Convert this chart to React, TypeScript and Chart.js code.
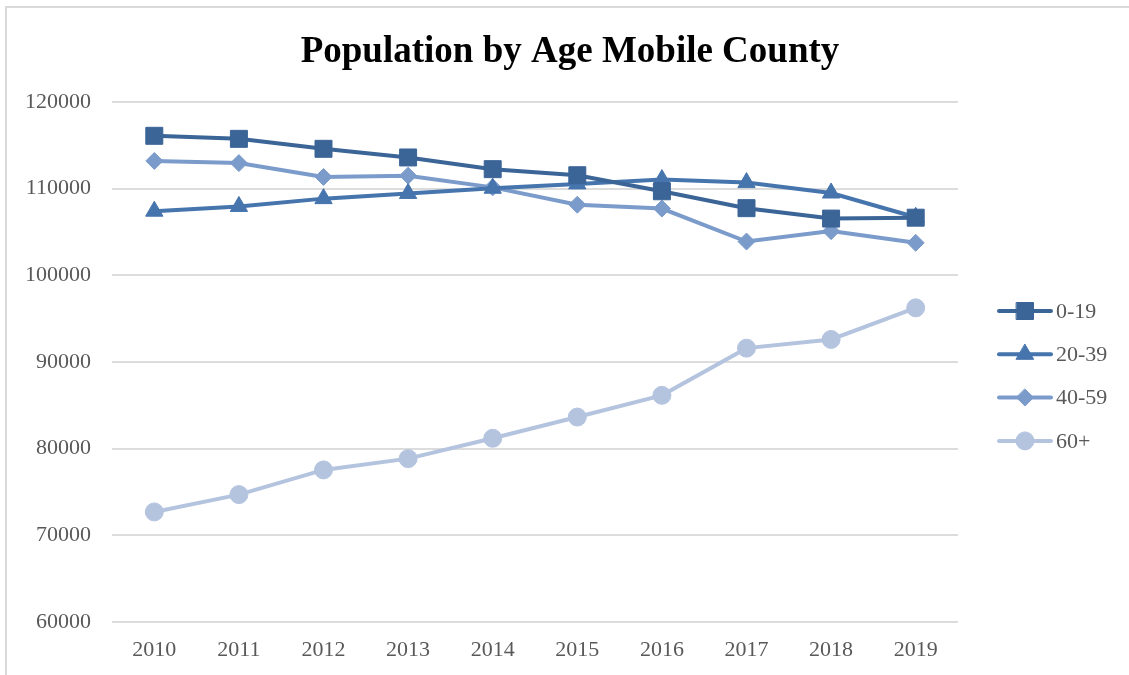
import React, { useEffect, useRef } from "react";
import { Chart, registerables } from "chart.js";

Chart.register(...registerables);

const years = ["2010", "2011", "2012", "2013", "2014", "2015", "2016", "2017", "2018", "2019"];
const age0to19 = [116100, 115750, 114600, 113600, 112250, 111550, 109700, 107750, 106550, 106650];
const age20to39 = [107400, 107950, 108850, 109450, 110050, 110550, 111050, 110700, 109500, 106700];
const age40to59 = [113200, 112950, 111350, 111500, 110150, 108150, 107700, 103900, 105100, 103750];
const age60plus = [72700, 74700, 77550, 78850, 81200, 83650, 86150, 91600, 92600, 96250];
const seriesNames = ["0-19", "20-39", "40-59", "60+"];
const titleText = "Population by Age Mobile County";
const yTicks = { min: 60000, max: 120000, step: 10000 };

const FONT = "'Liberation Serif', 'Times New Roman', serif";
const colors = ["#3b6497", "#4674ad", "#7b9bcb", "#b4c4df"];
const styles = ["rect", "triangle", "rectRot", "circle"];
const radii = [12, 10, 8.5, 9];

function drawMarker(ctx: CanvasRenderingContext2D, style: string, r: number, x: number, y: number) {
  ctx.beginPath();
  if (style === "rect") {
    const s = Math.SQRT1_2 * r;
    ctx.rect(x - s, y - s, 2 * s, 2 * s);
  } else if (style === "triangle") {
    let rad = 0;
    ctx.moveTo(x + Math.sin(rad) * r, y - Math.cos(rad) * r);
    rad += (2 * Math.PI) / 3;
    ctx.lineTo(x + Math.sin(rad) * r, y - Math.cos(rad) * r);
    rad += (2 * Math.PI) / 3;
    ctx.lineTo(x + Math.sin(rad) * r, y - Math.cos(rad) * r);
    ctx.closePath();
  } else if (style === "rectRot") {
    ctx.moveTo(x, y - r);
    ctx.lineTo(x + r, y);
    ctx.lineTo(x, y + r);
    ctx.lineTo(x - r, y);
    ctx.closePath();
  } else {
    ctx.arc(x, y, r, 0, Math.PI * 2);
  }
  ctx.fill();
  ctx.stroke();
}

const titleLegendPlugin = {
  id: "titleLegend",
  afterDraw(chart: any) {
    const ctx = chart.ctx;
    ctx.save();
    ctx.fillStyle = "#000000";
    ctx.font = `bold 37px ${FONT}`;
    ctx.textAlign = "center";
    ctx.textBaseline = "alphabetic";
    ctx.fillText(titleText, 570, 62);

    const ds = chart.data.datasets;
    const startY = 311;
    const gap = 43.3;
    ds.forEach((d: any, i: number) => {
      const y = startY + i * gap;
      ctx.strokeStyle = d.borderColor;
      ctx.lineWidth = 4;
      ctx.lineCap = "round";
      ctx.beginPath();
      ctx.moveTo(999, y);
      ctx.lineTo(1051, y);
      ctx.stroke();
      ctx.fillStyle = d.borderColor;
      ctx.lineWidth = 1;
      drawMarker(ctx, d.pointStyle, d.pointRadius, 1025, y);
      ctx.fillStyle = "#595959";
      ctx.font = `22px ${FONT}`;
      ctx.textAlign = "left";
      ctx.textBaseline = "middle";
      ctx.fillText(d.label, 1056, y + 1);
    });
    ctx.restore();
  },
};

export default function App() {
  const ref = useRef<HTMLCanvasElement | null>(null);

  useEffect(() => {
    if (!ref.current) return;
    const data = [age0to19, age20to39, age40to59, age60plus];
    const chart = new Chart(ref.current, {
      type: "line",
      data: {
        labels: years,
        datasets: data.map((vals, i) => ({
          label: seriesNames[i],
          data: vals,
          borderColor: colors[i],
          backgroundColor: colors[i],
          pointBackgroundColor: colors[i],
          pointBorderColor: colors[i],
          borderWidth: 4,
          pointStyle: styles[i] as any,
          pointRadius: radii[i],
          pointBorderWidth: 1,
          tension: 0,
          fill: false,
        })),
      },
      options: {
        animation: false,
        responsive: false,
        maintainAspectRatio: false,
        layout: { padding: { top: 102, right: 171, bottom: 0, left: 0 } },
        plugins: {
          legend: { display: false },
          tooltip: { enabled: false },
          title: { display: false },
        },
        scales: {
          x: {
            offset: true,
            afterFit: (scale: any) => {
              scale.height = 53;
            },
            grid: { display: false, drawTicks: false },
            border: { display: false },
            ticks: {
              color: "#595959",
              font: { family: FONT, size: 22 },
              padding: 15,
              maxRotation: 0,
            },
          },
          y: {
            min: yTicks.min,
            max: yTicks.max,
            afterFit: (scale: any) => {
              scale.width = 112;
            },
            grid: { color: "#dcdcdc", lineWidth: 2, drawTicks: false },
            border: { display: false },
            ticks: {
              stepSize: yTicks.step,
              color: "#595959",
              font: { family: FONT, size: 22 },
              padding: 21,
              callback: (v: any) => String(v),
            },
          },
        },
      },
      plugins: [titleLegendPlugin],
    });
    return () => chart.destroy();
  }, []);

  return (
    <div style={{ position: "absolute", left: 0, top: 0, width: 1129, height: 675, overflow: "hidden", background: "#fff" }}>
      <div
        style={{
          position: "absolute",
          left: 5,
          top: 6,
          width: 1200,
          height: 700,
          borderLeft: "2px solid #d9d9d9",
          borderTop: "2px solid #d9d9d9",
        }}
      />
      <canvas ref={ref} width={1129} height={675} style={{ position: "absolute", left: 0, top: 0, width: 1129, height: 675 }} />
    </div>
  );
}
